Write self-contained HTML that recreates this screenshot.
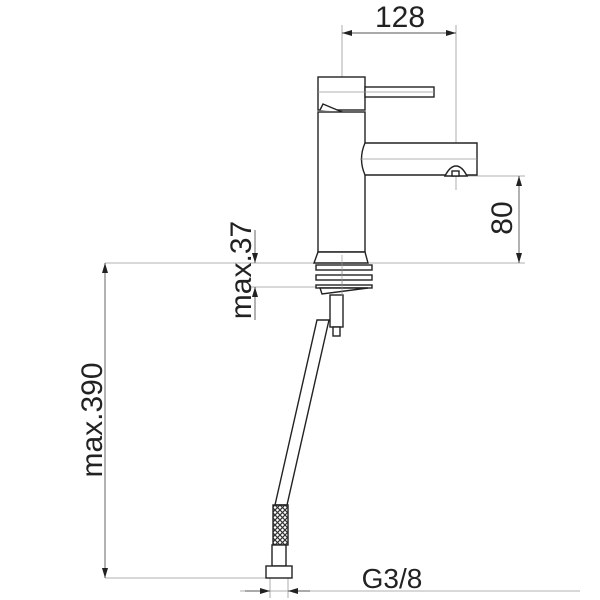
<!DOCTYPE html>
<html><head><meta charset="utf-8"><style>body{margin:0;background:#fff}svg{display:block}</style></head><body>
<svg width="600" height="600" viewBox="0 0 600 600" xmlns="http://www.w3.org/2000/svg" font-family="Liberation Sans, sans-serif">
<defs>
<marker id="a" viewBox="0 0 10 6" refX="10" refY="3" markerWidth="10" markerHeight="6" orient="auto-start-reverse" markerUnits="userSpaceOnUse"><path d="M0,0L10,3L0,6z" fill="#222"/></marker>
<pattern id="br" width="5" height="5" patternUnits="userSpaceOnUse"><path d="M0,0L5,5M5,0L0,5" stroke="#333" stroke-width="1.2"/></pattern>
</defs>
<g stroke="#999" stroke-width="0.8" fill="none">
<line x1="342" y1="25" x2="342" y2="300"/>
<line x1="456" y1="25" x2="456" y2="190"/>
<line x1="466" y1="176" x2="525" y2="176"/>
<line x1="105" y1="263" x2="525" y2="263"/>
<line x1="250" y1="287" x2="335" y2="287"/>
<line x1="105" y1="578" x2="268" y2="578"/>
<line x1="240" y1="591" x2="580" y2="591"/>
<line x1="270" y1="578" x2="270" y2="598"/>
<line x1="288" y1="578" x2="288" y2="598"/>
</g>
<g stroke="#555" stroke-width="0.9" fill="none">
<line x1="342" y1="33" x2="456" y2="33" marker-start="url(#a)" marker-end="url(#a)"/>
<line x1="519" y1="176" x2="519" y2="263" marker-start="url(#a)" marker-end="url(#a)"/>
<line x1="105" y1="263" x2="105" y2="578" marker-start="url(#a)" marker-end="url(#a)"/>
<line x1="255" y1="230" x2="255" y2="263" marker-end="url(#a)"/>
<line x1="255" y1="320" x2="255" y2="287" marker-end="url(#a)"/>
<line x1="245" y1="591" x2="270" y2="591" marker-end="url(#a)"/>
<line x1="310" y1="591" x2="288" y2="591" marker-end="url(#a)"/>
</g>
<g stroke="#222" stroke-width="1.4" fill="#fff">
<rect x="318" y="77" width="47" height="33"/>
<path d="M320,110L323,104L342,112"/>
<rect x="318" y="112" width="47" height="140"/>
<rect x="365" y="87" width="69" height="10"/>
<path d="M365,143H477V175H365Q358,159 365,143Z"/>
<path d="M445,176Q450,166 456,166Q462,166 467,176Z"/>
<rect x="452" y="171" width="7" height="5"/>
<path d="M318,252H365L368,263H314Z"/>
<rect x="316" y="265" width="56" height="5"/>
<rect x="316" y="275" width="56" height="5"/>
<rect x="316" y="285" width="56" height="3"/>
<path d="M320,288H368L322,294Z"/>
<rect x="330" y="295" width="13" height="32"/>
<rect x="333" y="327" width="7" height="9"/>
<path d="M317,320L329,320L287,505L275,505Z"/>
<rect x="273" y="505" width="15" height="40" fill="url(#br)"/>
<rect x="272" y="545" width="14" height="21"/>
<rect x="266" y="566" width="26" height="12"/>
</g>
<g stroke="#999" stroke-width="0.7"><line x1="342" y1="255" x2="342" y2="296"/><line x1="318" y1="92" x2="434" y2="92"/><line x1="360" y1="159" x2="477" y2="159"/></g>
<g fill="#222" font-size="30">
<text x="400" y="27" text-anchor="middle">128</text>
<text x="392" y="588" text-anchor="middle" font-size="28">G3/8</text>
<text transform="translate(512,218) rotate(-90)" text-anchor="middle">80</text>
<text transform="translate(251,270) rotate(-90)" text-anchor="middle">max.37</text>
<text transform="translate(102,420) rotate(-90)" text-anchor="middle">max.390</text>
</g>
</svg>
</body></html>
